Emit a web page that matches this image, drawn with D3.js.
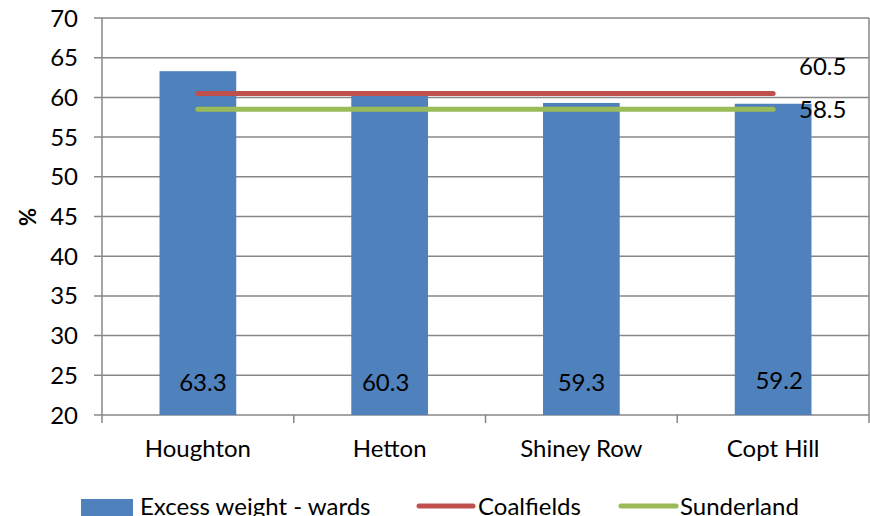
<!DOCTYPE html>
<html><head><meta charset="utf-8">
<script src="https://cdn.jsdelivr.net/npm/d3@7"></script>
<style>body{margin:0;background:#fff}svg{display:block}text{font-family:Lato,"Open Sans",sans-serif;fill:#000}</style>
</head><body><svg id="c" width="870" height="516"></svg>
<script>
const categories = ["Houghton", "Hetton", "Shiney Row", "Copt Hill"];
const wardValues = [63.3, 60.3, 59.3, 59.2];
const coalfields = 60.5;
const sunderland = 58.5;
const yTicks = [20, 25, 30, 35, 40, 45, 50, 55, 60, 65, 70];
const seriesNames = ["Excess weight - wards", "Coalfields", "Sunderland"];
const colors = ["#4F81BD", "#C0504D", "#9BBB59"];

(function () {
const svg = d3.select("#c");
const fs = 24;
const pl = 102, pr = 869, pt = 18, pb = 415;
const x = d3.scaleBand().domain(categories).range([pl, pr]).paddingInner(0.6).paddingOuter(0.3);
const xb = d3.scaleBand().domain(categories).range([pl, pr]);
const y = d3.scaleLinear().domain([20, 70]).range([pb, pt]);
const grey = "#878787";
const labelDx = [5, -4, 0, 6];
const labelY = [391, 391, 391, 389];

svg.append("g").selectAll("line").data(yTicks).join("line")
  .attr("x1", pl - 8).attr("x2", pr).attr("y1", d => y(d)).attr("y2", d => y(d))
  .attr("stroke", grey).attr("stroke-width", 1.5);
svg.append("line").attr("x1", pr).attr("x2", pr).attr("y1", pt).attr("y2", pb).attr("stroke", grey).attr("stroke-width", 1.5);
svg.append("line").attr("x1", pl).attr("x2", pl).attr("y1", pt).attr("y2", pb + 8).attr("stroke", grey).attr("stroke-width", 1.5);
const bounds = categories.map(c => xb(c)).concat([pr]);
svg.append("g").selectAll("line").data(bounds.slice(1)).join("line")
  .attr("x1", d => d).attr("x2", d => d).attr("y1", pb).attr("y2", pb + 8)
  .attr("stroke", grey).attr("stroke-width", 1.5);

svg.append("g").selectAll("text").data(yTicks).join("text")
  .attr("x", 78).attr("y", d => y(d) + 8.5).attr("text-anchor", "end")
  .attr("font-size", fs).text(d => d);

svg.append("g").selectAll("rect").data(wardValues).join("rect")
  .attr("x", (d, i) => x(categories[i])).attr("width", x.bandwidth())
  .attr("y", d => y(d)).attr("height", d => y(20) - y(d)).attr("fill", colors[0]);

svg.append("g").selectAll("text").data(wardValues).join("text")
  .attr("x", (d, i) => x(categories[i]) + x.bandwidth() / 2 + labelDx[i])
  .attr("y", (d, i) => labelY[i])
  .attr("text-anchor", "middle").attr("font-size", fs).text(d => d.toFixed(1));

const cx0 = xb(categories[0]) + xb.bandwidth() / 2;
const cx1 = xb(categories[3]) + xb.bandwidth() / 2;
[[coalfields, colors[1], 75], [sunderland, colors[2], 118]].forEach(([v, col, ly]) => {
  svg.append("line").attr("x1", cx0).attr("x2", cx1).attr("y1", y(v)).attr("y2", y(v))
    .attr("stroke", col).attr("stroke-width", 5).attr("stroke-linecap", "round");
  svg.append("text").attr("x", 799).attr("y", ly).attr("font-size", fs).text(v.toFixed(1));
});

svg.append("g").selectAll("text").data(categories).join("text")
  .attr("x", d => xb(d) + xb.bandwidth() / 2).attr("y", 457)
  .attr("text-anchor", "middle").attr("font-size", fs).text(d => d);

svg.append("text").attr("transform", "translate(36,217) rotate(-90)").attr("text-anchor", "middle")
  .attr("font-size", 22).attr("font-weight", "bold").text("%");

const ly = 506;
svg.append("rect").attr("x", 81).attr("y", 499).attr("width", 52).attr("height", 17).attr("fill", colors[0]);
svg.append("text").attr("x", 140).attr("y", 515).attr("font-size", fs).text(seriesNames[0]);
[[419, 473, 478, 1], [621, 676, 680, 2]].forEach(([lx, lx2, tx, i]) => {
  svg.append("line").attr("x1", lx).attr("x2", lx2).attr("y1", ly).attr("y2", ly)
    .attr("stroke", colors[i]).attr("stroke-width", 5).attr("stroke-linecap", "round");
  svg.append("text").attr("x", tx).attr("y", 515).attr("font-size", fs).text(seriesNames[i]);
});
})();
</script></body></html>
